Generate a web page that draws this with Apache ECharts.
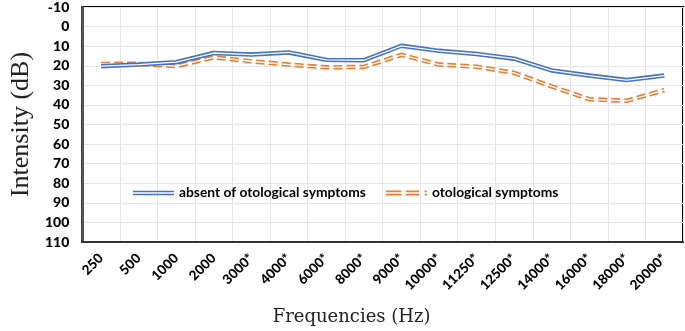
<!DOCTYPE html>
<html>
<head>
<meta charset="utf-8">
<script src="https://cdn.jsdelivr.net/npm/echarts@6/dist/echarts.min.js"></script>
<style>
  html, body { margin: 0; padding: 0; background: #fff; }
  #chart { width: 685px; height: 331px; }
</style>
</head>
<body>
<div id="chart"></div>
<script>
// frequencies on the x axis (Hz)
const frequencies = ['250', '500', '1000', '2000', '3000*', '4000*', '6000*', '8000*',
    '9000*', '10000*', '11250*', '12500*', '14000*', '16000*', '18000*', '20000*'];

// mean thresholds (dB)
const absentSymptoms = [20.2, 19.4, 18.2, 13.5, 14.3, 13.2, 17, 17.2, 9.8, 12.4, 14, 16.4, 22.4, 25, 27.3, 25];
const withSymptoms = [19.1, 19, 20.2, 15.7, 17.7, 19.4, 20.8, 20.6, 14.4, 19.4, 20.5, 23.6, 30.5, 37.1, 37.9, 32.5];

const yTicks = { min: -10, max: 110, step: 10 };

const BLUE = '#4472C4';
const ORANGE = '#ED7D31';
const labelFont = 'Lato, "Liberation Sans", sans-serif';

const chart = echarts.init(document.getElementById('chart'));

const option = {
    animation: false,
    backgroundColor: '#fff',
    grid: {
        left: 70, right: 2, top: 5, bottom: 88,
        show: true,
        borderColor: '#000',
        borderWidth: 2
    },
    legend: {
        data: [
            { name: 'absent of otological symptoms', icon: 'path://M0,0H40V1.5H0ZM0,3H40V4.5H0Z' },
            { name: 'otological symptoms', icon: 'path://M0,0H14V1.5H0ZM0,3H14V4.5H0ZM18,0H30V1.5H18ZM18,3H30V4.5H18ZM35,0H37V1.5H35ZM35,3H37V4.5H35Z' }
        ],
        left: 128,
        top: 181,
        itemWidth: 41,
        itemHeight: 5,
        itemGap: 20,
        itemStyle: { borderWidth: 0 },
        textStyle: { fontFamily: labelFont, fontWeight: 'bold', fontSize: 13.8, color: '#000' }
    },
    xAxis: {
        type: 'category',
        data: frequencies,
        position: 'bottom',
        boundaryGap: true,
        name: 'Frequencies (Hz)',
        nameLocation: 'middle',
        nameGap: 66,
        nameTextStyle: {
            fontFamily: '"DejaVu Serif", serif',
            fontSize: 18,
            color: '#222',
            verticalAlign: 'top',
            padding: [0, 62, 0, 0]
        },
        axisLine: { onZero: false, lineStyle: { color: '#333', width: 2 } },
        axisTick: { show: false },
        splitLine: { show: true, lineStyle: { color: '#e6e6e6', width: 1 } },
        axisLabel: {
            interval: 0,
            rotate: 45,
            margin: 14,
            fontFamily: labelFont,
            fontWeight: 900,
            fontSize: 13.5,
            color: '#000'
        }
    },
    yAxis: {
        type: 'value',
        inverse: true,
        min: yTicks.min,
        max: yTicks.max,
        interval: yTicks.step,
        name: 'Intensity (dB)',
        nameLocation: 'middle',
        nameGap: 47,
        nameTextStyle: {
            fontFamily: '"Liberation Serif", "Times New Roman", serif',
            fontSize: 26,
            color: '#222'
        },
        axisLine: { show: true, onZero: false, lineStyle: { color: '#555', width: 2 } },
        axisTick: { show: false },
        splitLine: { show: true, lineStyle: { color: '#e6e6e6', width: 1 } },
        axisLabel: {
            margin: 13,
            fontFamily: labelFont,
            fontWeight: 900,
            fontSize: 14,
            color: '#000'
        }
    },
    series: [
        {
            name: 'otological symptoms',
            type: 'line',
            data: withSymptoms,
            symbol: 'none',
            itemStyle: { color: ORANGE },
            lineStyle: { color: ORANGE, width: 4.5, type: [9, 4] },
            z: 2
        },
        {
            name: 'otological symptoms (inner)',
            type: 'line',
            data: withSymptoms,
            symbol: 'none',
            silent: true,
            lineStyle: { color: '#fff', width: 1.3 },
            z: 3
        },
        {
            name: 'absent of otological symptoms',
            type: 'line',
            data: absentSymptoms,
            symbol: 'none',
            itemStyle: { color: BLUE },
            lineStyle: { color: BLUE, width: 4.5 },
            z: 4
        },
        {
            name: 'absent (inner)',
            type: 'line',
            data: absentSymptoms,
            symbol: 'none',
            silent: true,
            lineStyle: { color: '#fff', width: 1.3 },
            z: 5
        }
    ]
};

chart.setOption(option);

window.addEventListener('resize', function () {
    chart.resize();
});
</script>
</body>
</html>
